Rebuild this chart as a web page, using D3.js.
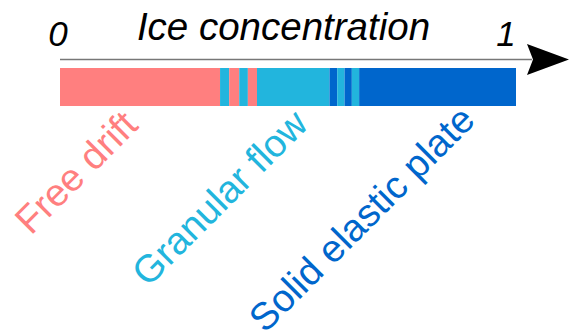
<!DOCTYPE html>
<html><head><meta charset="utf-8">
<script src="https://cdn.jsdelivr.net/npm/d3@7"></script>
<style>body{margin:0;background:#fff}svg{display:block}</style>
</head><body>
<script>
// Data: regime segments along ice concentration [0,1]
const segStart = [0, 0.351, 0.371, 0.393, 0.412, 0.432, 0.591, 0.608, 0.624, 0.640, 0.656];
const segEnd   = [0.351, 0.371, 0.393, 0.412, 0.432, 0.591, 0.608, 0.624, 0.640, 0.656, 1];
const segRegime = ["Free drift","Granular flow","Free drift","Granular flow","Free drift","Granular flow","Solid elastic plate","Granular flow","Solid elastic plate","Granular flow","Solid elastic plate"];
const regimes = ["Free drift","Granular flow","Solid elastic plate"];
const regimeColors = ["#FF7F7F","#22B5DD","#0066CC"];
const tickValues = [0, 1];
const tickLabels = ["0", "1"];
const title = "Ice concentration";

const W = 569, H = 331;
const svg = d3.select("body").append("svg").attr("width", W).attr("height", H);
const x = d3.scaleLinear().domain([0,1]).range([60,516]);
const color = d3.scaleOrdinal().domain(regimes).range(regimeColors);
const font = "'Liberation Sans', Arial, sans-serif";

// axis line
svg.append("line").attr("x1", x(0)).attr("x2", 532).attr("y1", 59.5).attr("y2", 59.5)
  .attr("stroke", "#777").attr("stroke-width", 1.6);
// arrow head
svg.append("path").attr("d", "M527,44 L569,59.5 L527,75 L533,59.5 Z").attr("fill", "#000");

// bar segments
const segs = segStart.map((s,i)=>({s, e: segEnd[i], r: segRegime[i]}));
svg.selectAll("rect.seg").data(segs).join("rect")
  .attr("x", d=>x(d.s)).attr("width", d=>x(d.e)-x(d.s))
  .attr("y", 68).attr("height", 38)
  .attr("fill", d=>color(d.r));

// tick labels
const tickOffset = [-2, -10];
svg.selectAll("text.tick").data(tickValues).join("text")
  .attr("x", (d,i)=>x(d)+tickOffset[i]).attr("y", 46)
  .attr("text-anchor","middle").attr("font-family", font)
  .attr("font-style","italic").attr("font-size", 35).attr("fill","#000")
  .text((d,i)=>tickLabels[i]);

// title
svg.append("text").attr("x", 283.5).attr("y", 40).attr("text-anchor","middle")
  .attr("font-family", font).attr("font-style","italic").attr("font-size", 38.5)
  .attr("fill","#000").text(title);

// regime labels (rotated)
const labelPos = [[31,236],[148,288],[265,334]];
svg.selectAll("text.reg").data(regimes).join("text")
  .attr("transform", (d,i)=>`translate(${labelPos[i][0]},${labelPos[i][1]}) rotate(-45)`)
  .attr("font-family", font).attr("font-size", 38.5)
  .attr("fill", d=>color(d)).text(d=>d);
</script>
</body></html>
